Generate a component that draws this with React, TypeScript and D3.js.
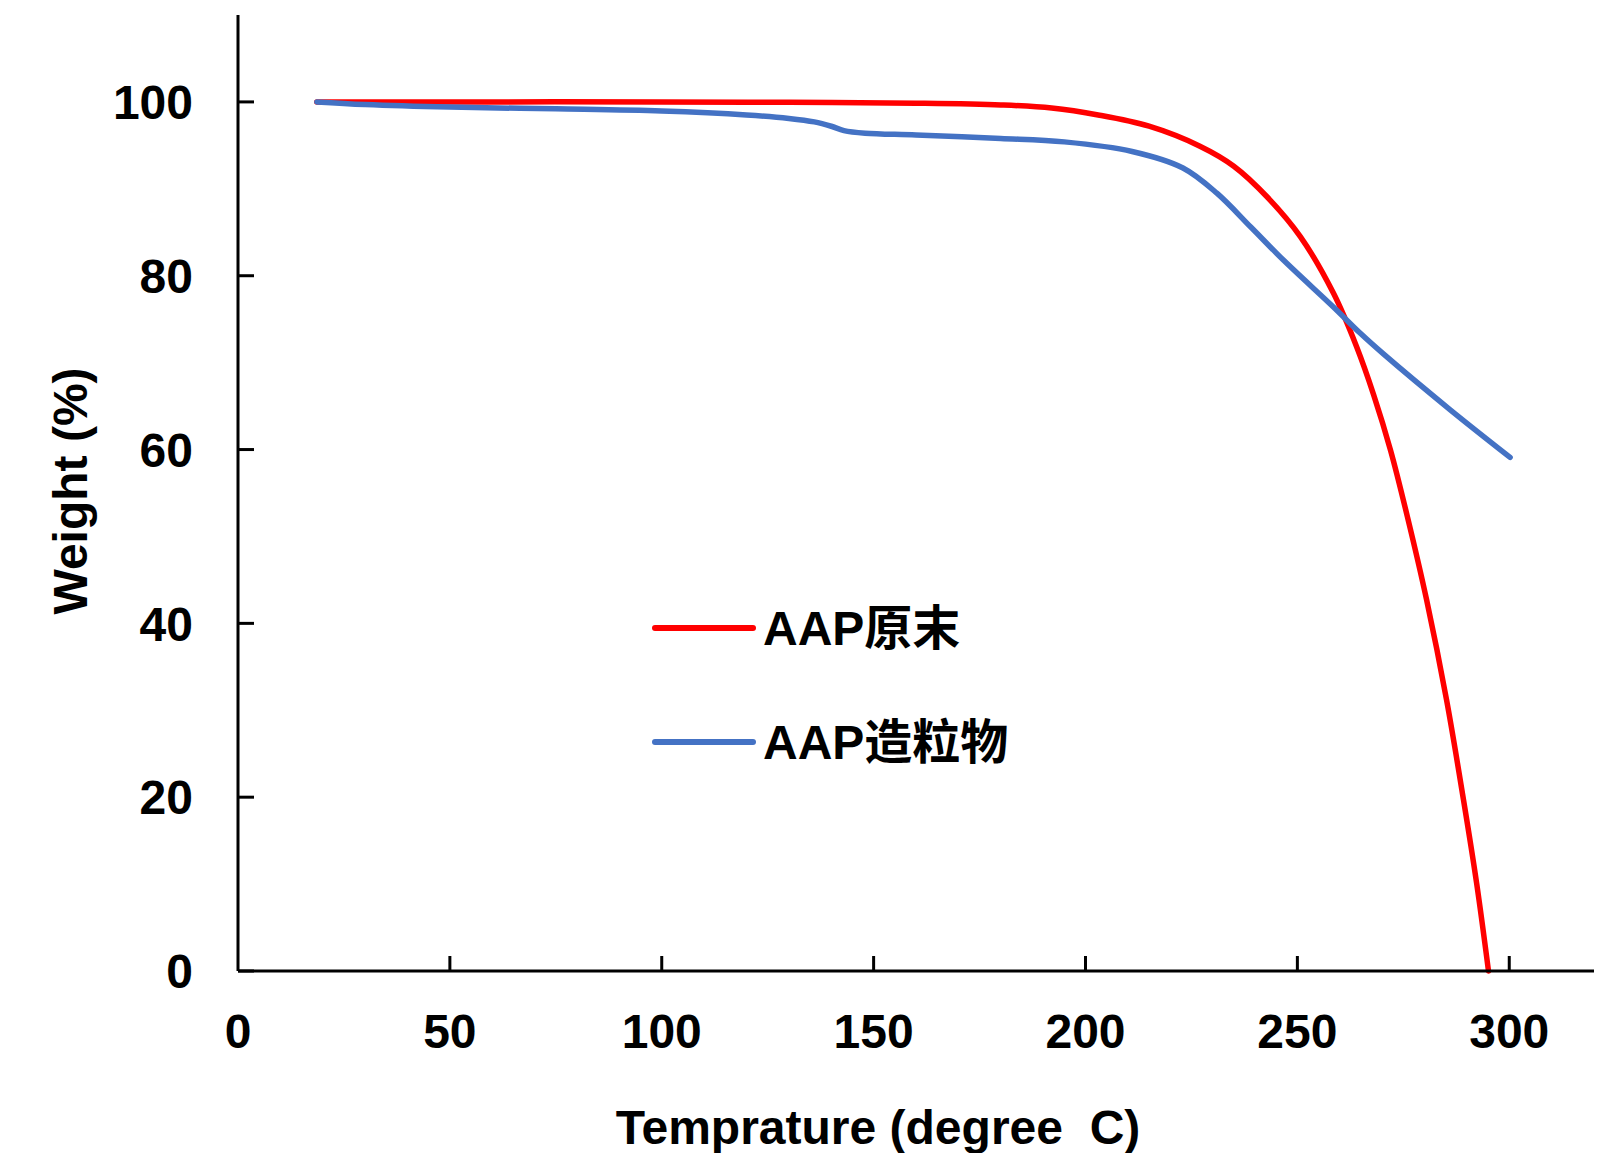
import * as d3 from "d3";

// temperature (°C) / weight (%)
const rawTemp = [18.6, 50, 100, 130, 160, 180, 192, 203, 215, 227, 235, 243, 250.7, 258.5, 264, 268, 272, 276, 280.5, 285.2, 289.2, 292.3, 295.1];
const rawWeight = [100, 100, 100, 99.95, 99.85, 99.65, 99.3, 98.5, 97.2, 94.9, 92.6, 89.0, 84.5, 78.0, 71.8, 66.3, 59.9, 52.2, 42.7, 31.2, 19.7, 10.1, 0];

const granTemp = [18.6, 30, 50, 75, 100, 120, 130, 136, 140, 143, 148, 160, 180, 195, 211, 223, 231, 239, 246.7, 258.5, 264.8, 270.3, 286, 300.2];
const granWeight = [100, 99.7, 99.4, 99.2, 98.95, 98.5, 98.1, 97.7, 97.2, 96.7, 96.4, 96.2, 95.8, 95.4, 94.3, 92.4, 89.5, 85.6, 81.8, 76.4, 73.4, 71.0, 64.6, 59.1];

const seriesNames = ["AAP原末", "AAP造粒物"];
const seriesColors = ["#ff0000", "#4472c4"];

const xTicks = [0, 50, 100, 150, 200, 250, 300];
const yTicks = [0, 20, 40, 60, 80, 100];

const W = 1603;
const H = 1153;
const FONT = "'Liberation Sans', Arial, 'Noto Sans CJK SC', sans-serif";

export default function App() {
  const x = d3.scaleLinear().domain([0, 320]).range([238, 1594]);
  const y = d3.scaleLinear().domain([0, 110]).range([971, 15]);

  const line = d3
    .line<[number, number]>()
    .x((d) => x(d[0]))
    .y((d) => y(d[1]))
    .curve(d3.curveCatmullRom.alpha(0.5));

  const series = [
    rawTemp.map((t, i) => [t, rawWeight[i]] as [number, number]),
    granTemp.map((t, i) => [t, granWeight[i]] as [number, number]),
  ];

  const legendY = [628, 742];

  return (
    <svg
      width={W}
      height={H}
      style={{ position: "absolute", left: 0, top: 0, background: "#fff" }}
      fontFamily={FONT}
    >
      {/* curves */}
      {series.map((s, i) => (
        <path
          key={i}
          d={line(s) || ""}
          fill="none"
          stroke={seriesColors[i]}
          strokeWidth={5.5}
          strokeLinecap="round"
          strokeLinejoin="round"
        />
      ))}

      {/* axes */}
      <line x1={x(0)} x2={x(0)} y1={y(110)} y2={y(0)} stroke="#000" strokeWidth={3} />
      <line x1={x(0)} x2={x(320)} y1={y(0)} y2={y(0)} stroke="#000" strokeWidth={3} />

      {yTicks.map((t) => (
        <g key={"y" + t}>
          <line x1={x(0)} x2={x(0) + 16} y1={y(t)} y2={y(t)} stroke="#000" strokeWidth={3} />
          <text
            x={193}
            y={y(t)}
            dy="0.36em"
            textAnchor="end"
            fontSize={48}
            fontWeight="bold"
          >
            {t}
          </text>
        </g>
      ))}

      {xTicks.map((t) => (
        <g key={"x" + t}>
          {t > 0 && (
            <line x1={x(t)} x2={x(t)} y1={y(0)} y2={y(0) - 15} stroke="#000" strokeWidth={3} />
          )}
          <text x={x(t)} y={1048} textAnchor="middle" fontSize={48} fontWeight="bold">
            {t}
          </text>
        </g>
      ))}

      {/* axis titles */}
      <text
        x={878}
        y={1144}
        textAnchor="middle"
        fontSize={48}
        fontWeight="bold"
        style={{ whiteSpace: "pre" }}
      >
        {"Temprature (degree  C)"}
      </text>
      <text
        transform="translate(87,491) rotate(-90)"
        textAnchor="middle"
        fontSize={48}
        fontWeight="bold"
      >
        Weight (%)
      </text>

      {/* legend */}
      {seriesNames.map((name, i) => (
        <g key={name}>
          <line
            x1={655}
            x2={753}
            y1={legendY[i]}
            y2={legendY[i]}
            stroke={seriesColors[i]}
            strokeWidth={6}
            strokeLinecap="round"
          />
          <text x={763} y={legendY[i]} dy="0.36em" fontSize={48} fontWeight="bold">
            {name}
          </text>
        </g>
      ))}
    </svg>
  );
}
